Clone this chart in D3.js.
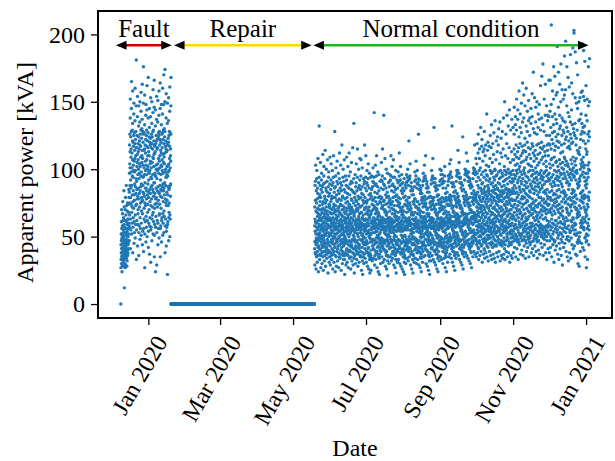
<!DOCTYPE html>
<html><head><meta charset="utf-8">
<script src="https://cdn.jsdelivr.net/npm/d3@7"></script>
<style>html,body{margin:0;padding:0;background:#fff} text{font-family:'Liberation Serif','Times New Roman',serif}</style>
</head><body><svg id="chart" width="615" height="461"></svg>
<script>
// ---------- data: apparent power [kVA], 14 samples per day ----------
const samplesPerDay = 14;
const faultDecStart = "2019-12-09T00:00";
const faultDec = [
0,27,44,33,52,38,61,47,30,70,41,56,35,49,
24,36,48,29,58,42,67,51,33,76,45,39,62,53,
31,46,28,55,40,64,35,50,84,43,59,37,72,48,
12,33,45,38,57,30,62,47,27,70,41,53,36,79,
35,29,51,43,66,39,56,48,88,34,61,45,73,52,
28,41,37,54,32,69,46,59,40,75,50,36,63,44,
38,50,45,63,41,74,56,68,52,85,47,60,79,57,
47,58,83,97,118,66,75,104,126,88,101,113,138,152,
41,63,79,92,124,55,86,109,115,74,98,128,145,165,
52,68,88,101,112,60,72,95,129,81,107,121,134,158,
38,57,76,94,120,64,84,103,117,71,99,125,141,149,
45,61,81,106,127,53,77,98,114,89,108,119,136,160,
49,66,87,99,122,59,73,110,128,82,93,116,147,181,
33,55,74,91,116,62,85,102,125,78,105,111,139,154,
43,59,80,96,119,67,70,107,113,86,100,124,132,147,
36,53,78,93,115,58,82,97,121,72,104,118,135,150,
48,64,84,102,126,56,75,109,117,87,95,129,143,157,
51,60,89,98,123,69,79,105,130,76,110,114,137,163,
44,67,77,108,128,54,88,94,120,83,103,126,149,176,
39,56,82,95,114,63,71,101,127,80,96,115,133,155,
27,52,75,90,118,61,86,106,112,73,99,122,140,148,
46,65,86,103,125,57,78,96,129,84,107,117,144,162,
50,62,81,100,121,68,74,110,116,89,102,127,138,168];
const faultJanStart = "2020-01-01T00:00";
const faultJan = [
42,54,79,92,113,60,83,98,124,70,97,110,131,145,
37,58,85,99,120,64,76,104,118,82,106,123,139,153,
31,55,73,94,116,57,87,101,126,78,93,119,134,150,
47,63,88,105,124,66,72,96,115,85,109,128,142,159,
52,68,83,108,129,61,80,102,121,90,111,118,146,166,
35,51,71,90,112,59,82,97,117,74,95,113,132,144,
24,57,78,95,119,65,86,103,125,79,100,121,137,154,
29,53,75,93,115,62,84,99,122,72,104,116,135,151,
44,60,87,100,123,56,77,108,127,83,97,125,140,158,
49,66,82,106,128,67,74,101,118,88,110,122,145,164,
35,56,80,92,114,58,85,96,120,71,103,112,133,148,
46,62,84,102,126,64,79,107,116,87,99,127,141,160,
51,67,89,97,122,60,76,111,129,84,105,119,148,170,
53,69,86,109,130,65,81,104,124,90,112,128,150,174,
38,58,78,98,117,63,88,100,121,75,94,115,138,156,
43,54,73,94,113,57,83,96,119,77,102,114,134,149,
22,59,81,95,118,61,87,103,123,73,98,120,136,153,
47,64,85,104,125,68,75,99,128,86,108,117,143,161,
50,66,88,101,127,63,80,110,115,89,106,126,147,168];
const repairStart = "2020-01-20T00:00";
const repairEnd = "2020-05-19T00:00";
const repairLevel = 0;
const normalMayStart = "2020-05-19T00:00";
const normalMay = [
41,58,72,29,46,63,88,54,38,77,91,61,103,47,
37,52,69,26,44,60,84,49,35,75,93,57,99,68,
45,61,78,31,39,55,86,65,48,71,82,52,108,42,
36,57,67,24,47,62,90,51,43,79,94,59,132,70,
49,64,73,33,41,53,81,58,37,76,88,50,105,66,
40,55,79,27,36,62,85,63,46,70,92,56,97,48,
44,51,68,30,38,59,83,57,42,74,87,64,111,71,
35,60,76,25,49,54,89,50,39,67,95,61,102,45,
47,56,70,32,43,65,80,52,36,78,90,58,114,69,
39,63,75,28,45,51,86,60,41,72,84,55,100,67,
42,53,77,34,37,64,91,56,48,69,83,62,107,46,
38,59,66,23,44,57,87,53,40,80,94,50,98,72,
46,62,74,31,39,52,82,64,35,73,89,58,109,68];
const normalJunStart = "2020-06-01T00:00";
const normalJun = [
43,57,71,29,38,62,85,51,46,76,92,55,104,67,
36,60,78,33,48,53,80,58,41,70,88,63,99,45,
47,54,67,26,40,64,90,50,37,79,94,59,110,72,
39,61,74,31,44,56,83,57,49,68,86,52,128,70,
42,50,79,24,36,63,87,55,45,73,95,60,101,66,
35,58,69,28,47,52,81,64,39,77,91,56,106,48,
46,62,76,32,41,57,89,53,43,71,84,65,97,69,
38,55,72,27,49,60,82,50,35,78,93,58,112,67,
44,59,68,34,37,54,86,62,47,74,90,51,103,73,
40,63,77,25,45,58,84,56,42,66,88,61,118,70,
48,52,73,30,39,65,80,59,36,79,94,55,100,46,
37,57,70,33,43,53,91,51,44,72,85,62,107,68,
33,49,64,22,36,50,78,47,38,67,83,54,95,60,
45,61,75,29,48,56,88,63,40,71,92,58,109,69,
41,54,79,31,37,60,82,52,46,76,87,64,102,66,
36,58,66,27,44,55,86,57,39,73,95,50,112,71,
47,62,74,34,40,52,81,61,43,69,89,59,98,67,
39,53,71,26,46,64,85,54,35,78,91,56,105,72,
44,60,77,32,42,57,90,58,48,70,84,63,116,68,
38,56,69,29,47,51,83,62,41,75,93,55,134,66,
34,50,65,23,37,54,79,48,36,68,82,53,96,61,
46,59,73,30,43,61,87,55,40,77,90,57,104,70,
42,63,76,33,39,58,84,60,47,71,94,52,115,69,
37,52,70,28,45,55,80,50,38,74,86,62,100,65,
43,57,78,31,41,63,88,59,44,67,92,56,108,72,
48,61,72,35,36,53,85,57,39,79,95,60,107,68,
35,55,68,25,47,60,82,51,42,73,87,58,101,64,
32,48,63,22,38,52,77,46,35,66,81,50,93,59,
45,58,75,30,44,56,89,62,37,70,91,54,118,71,
41,62,79,34,49,59,86,55,46,76,94,63,110,67];
const normalJulStart = "2020-07-01T00:00";
const normalJul = [
44,57,72,31,39,63,84,52,47,75,90,58,99,68,
38,60,77,28,45,54,88,59,41,70,93,62,104,66,
42,53,69,26,36,58,81,50,38,72,86,55,97,64,
33,49,64,23,35,51,78,46,37,66,82,52,94,60,
36,52,67,25,40,55,80,48,34,69,85,57,95,62,
46,61,74,32,43,57,87,60,48,77,91,53,101,70,
48,59,78,34,41,64,90,56,44,73,94,61,142,72,
40,56,71,29,47,53,83,62,36,79,88,58,103,67,
45,63,76,33,38,60,89,54,49,71,95,57,110,69,
39,54,70,27,46,58,82,51,42,74,87,63,98,65,
37,50,68,24,43,56,79,49,35,67,84,59,96,61,
34,48,62,22,37,52,76,45,40,65,80,53,91,58,
47,58,75,30,42,62,86,55,39,78,92,60,105,71,
49,63,79,35,44,57,91,61,46,72,95,64,115,73,
43,60,73,31,48,55,85,58,41,76,89,56,140,70,
46,57,77,33,40,63,88,53,45,70,93,62,108,68,
40,52,69,28,47,54,81,60,38,74,86,57,100,66,
36,55,66,26,39,51,79,48,43,68,83,58,97,63,
32,47,61,21,36,50,75,46,35,64,80,52,90,57,
44,59,72,30,45,61,87,56,41,77,91,54,96,69,
50,64,78,35,42,58,92,62,48,75,95,60,110,74,
42,56,74,32,46,53,84,59,37,71,88,63,102,67,
47,62,76,34,39,60,89,55,44,79,94,57,107,70,
39,53,70,29,48,57,83,50,42,73,87,61,94,65,
37,51,67,27,41,55,80,47,36,69,85,58,99,62,
33,46,63,23,38,50,77,44,40,65,81,54,92,59,
45,58,73,31,44,62,86,57,39,76,90,55,98,68,
48,63,79,33,41,56,91,60,47,74,95,64,112,72,
43,60,75,30,47,59,88,54,38,78,92,57,102,69,
41,55,71,28,37,61,84,51,45,70,89,62,96,66,
38,57,68,26,46,54,82,49,40,72,86,59,90,64];
const normalAugStart = "2020-08-01T00:00";
const normalAug = [
35,50,66,24,41,56,79,47,38,69,84,55,93,61,
31,46,61,22,36,51,74,43,34,64,80,50,88,57,
44,58,73,30,40,63,86,55,46,77,90,57,96,68,
48,62,77,34,43,57,91,60,41,73,94,63,100,71,
45,60,75,32,47,55,88,58,39,79,92,61,121,69,
50,64,79,35,42,61,93,62,48,75,95,59,104,73,
41,55,70,29,46,58,84,52,37,71,87,60,90,66,
37,52,67,26,39,54,81,49,44,68,85,56,84,63,
33,48,63,23,37,50,76,45,36,66,81,53,76,59,
45,59,74,31,44,62,87,56,40,78,91,58,98,68,
49,63,78,34,41,57,92,61,47,72,95,64,106,72,
43,57,72,30,48,60,86,54,38,76,89,59,99,67,
46,61,76,33,40,56,90,58,45,70,93,62,126,70,
42,56,71,29,47,59,85,53,39,74,88,57,92,66,
38,53,68,27,42,55,82,50,35,69,84,61,86,64,
34,49,64,24,37,52,77,46,41,65,82,54,79,60,
45,58,75,31,43,61,88,57,39,72,91,56,97,68,
50,63,79,35,46,57,92,62,44,77,94,60,103,73,
52,65,80,36,41,64,95,59,48,74,93,63,110,75,
43,56,72,30,48,58,86,53,40,78,89,61,91,67,
40,54,70,28,39,55,83,51,46,71,87,57,86,65,
36,51,66,25,44,50,79,48,37,67,83,59,79,62,
32,47,62,22,35,53,75,44,38,64,80,52,72,58,
47,60,76,32,45,57,89,56,41,73,92,62,99,70,
51,64,79,36,42,62,94,61,49,76,95,58,108,74,
46,61,77,33,48,56,90,58,40,79,93,63,131,71,
44,57,73,31,39,60,87,54,46,70,90,59,93,68,
40,55,70,29,45,53,84,51,37,74,86,61,88,66,
37,52,67,26,41,58,80,49,43,66,85,56,81,63,
34,49,64,24,36,51,77,45,39,68,81,55,74,60,
46,59,75,32,43,63,88,57,47,71,91,58,100,69];
const normalSepStart = "2020-09-01T00:00";
const normalSep = [
50,63,78,35,44,59,92,61,48,75,96,64,99,73,
46,61,76,33,49,56,89,58,42,79,93,60,96,70,
43,57,72,30,39,62,86,54,45,71,90,63,91,67,
48,62,78,34,46,58,91,60,41,76,95,59,102,72,
38,53,68,27,43,55,82,50,36,69,86,61,79,64,
35,49,64,24,38,51,77,46,40,66,83,56,74,60,
45,58,74,31,42,61,88,56,47,73,91,62,95,68,
49,63,79,35,46,57,93,60,43,77,96,64,104,73,
52,66,81,37,48,63,96,62,50,78,98,60,107,75,
47,61,77,34,44,58,90,59,41,80,94,65,132,71,
43,58,73,31,49,56,87,55,39,72,90,61,89,68,
39,54,69,28,42,52,83,51,45,68,87,59,80,65,
36,50,65,25,38,53,78,47,37,66,84,57,73,61,
48,61,77,34,45,63,91,58,43,75,95,62,99,72,
53,67,82,38,49,59,97,64,51,79,99,66,114,76,
50,64,80,36,47,62,94,61,44,77,97,63,105,74,
46,60,76,33,41,58,90,57,48,73,93,65,94,71,
42,57,73,31,47,55,86,54,40,71,89,61,90,68,
40,55,71,29,44,60,84,52,38,69,88,58,124,66,
37,51,67,26,39,53,80,48,42,67,85,59,75,63,
49,62,78,35,46,60,92,59,44,76,96,64,100,73,
54,67,83,38,50,64,98,63,52,80,99,66,112,77,
51,65,81,36,47,61,95,60,45,78,97,63,106,75,
47,62,78,34,52,58,91,57,43,74,94,67,98,72,
44,59,75,32,48,56,88,55,41,79,91,62,93,70,
42,56,73,30,45,61,86,53,39,70,89,64,88,68,
38,53,69,27,43,54,82,49,46,68,87,60,76,65,
50,63,79,35,47,59,93,60,45,77,97,65,101,74,
55,68,84,39,51,65,99,64,53,81,100,67,118,78,
52,66,82,37,49,62,96,61,47,79,98,64,108,76];
const normalOctStart = "2020-10-01T00:00";
const normalOct = [
48,63,77,35,52,91,58,72,44,104,81,66,97,119,
55,69,38,46,83,61,75,53,88,112,42,67,94,126,
41,57,74,33,65,50,86,71,59,99,79,47,108,115,
62,45,80,36,54,92,68,77,51,101,57,73,86,131,
50,71,39,58,84,43,64,96,76,55,117,69,89,122,
44,60,82,31,53,73,66,90,48,106,78,57,98,113,
67,52,37,79,46,62,85,56,72,94,115,41,83,128,
53,40,70,59,34,76,49,87,64,110,81,55,99,118,
47,65,83,38,54,68,45,92,74,103,60,78,96,141,
58,43,72,35,61,51,80,95,67,114,48,84,88,120,
42,56,76,32,63,49,71,86,58,102,82,54,91,117,
64,51,84,39,45,69,78,57,93,108,73,60,99,125,
49,62,73,36,55,81,44,66,89,116,77,53,97,133,
57,46,80,33,68,52,75,98,61,105,84,42,90,119,
45,67,71,37,59,50,83,87,63,111,79,54,94,127,
60,48,77,34,56,72,43,92,66,100,85,58,99,136,
52,64,82,31,47,70,61,88,54,107,76,44,95,121,
43,58,74,38,65,53,79,96,69,113,81,50,86,124,
63,50,85,35,57,73,46,90,68,118,78,55,98,130,
48,66,76,39,54,61,84,93,71,104,80,45,89,135,
56,44,81,32,62,52,77,99,65,112,83,59,94,123,
51,69,72,36,47,58,80,87,64,109,76,43,97,128,
59,45,84,34,66,55,70,95,61,115,82,53,91,138,
46,62,78,37,57,49,83,88,67,102,74,41,99,150,
54,68,73,33,44,63,79,92,58,110,85,56,96,126,
61,47,86,39,55,71,76,98,69,119,80,52,93,140,
50,65,82,35,60,48,74,89,66,108,84,57,100,132,
57,43,79,38,69,53,85,97,62,116,77,46,94,144,
45,59,75,31,52,67,81,91,70,105,83,54,98,129,
64,49,84,36,58,70,44,96,73,113,78,55,90,137,
52,60,77,34,46,66,82,93,63,107,86,50,99,131];
const normalNovStart = "2020-11-01T00:00";
const normalNov = [
54,72,91,38,49,65,84,107,58,77,96,115,126,146,
47,68,88,42,56,74,93,111,52,63,82,103,133,139,
59,77,95,35,51,62,86,118,48,71,99,109,129,152,
50,66,83,41,57,79,97,104,46,69,90,113,137,144,
55,73,92,33,48,64,81,116,53,76,100,108,124,158,
46,61,87,44,59,70,94,102,51,67,85,119,131,141,
57,75,98,37,52,68,83,110,49,78,91,105,127,149,
51,63,89,40,58,72,96,117,47,65,80,112,135,164,
60,78,93,36,53,66,85,106,55,74,99,114,138,155,
48,70,84,43,56,61,97,101,50,79,88,118,123,147,
58,67,91,34,47,75,82,113,54,64,95,107,132,160,
45,62,86,39,59,71,90,109,52,77,81,120,128,143,
56,76,94,42,50,63,87,104,48,69,98,116,136,151,
53,65,80,35,57,73,92,111,46,68,84,103,125,138,
49,79,99,44,55,60,83,115,51,72,89,108,134,145,
57,66,88,38,46,74,95,102,58,70,86,119,139,156,
60,78,96,41,54,67,91,117,53,75,99,112,130,172,
47,64,85,36,58,71,82,106,49,76,93,110,127,153,
55,69,90,43,51,62,97,114,56,73,87,101,135,146,
52,77,84,39,59,68,94,108,48,65,98,118,126,150,
46,63,92,34,50,72,81,103,54,66,89,111,131,141,
58,74,87,40,47,61,96,119,52,79,83,105,137,148,
54,68,97,37,56,75,90,112,57,64,85,116,129,162,
59,79,93,45,53,70,99,107,50,73,95,120,138,169,
51,66,86,42,58,77,88,115,55,69,92,109,133,178,
56,72,94,36,49,63,83,104,53,78,97,117,128,152,
48,75,89,44,57,69,98,113,51,71,84,110,140,163,
53,64,82,38,55,76,91,106,58,67,99,102,125,147,
50,70,95,33,47,62,85,118,54,74,80,114,136,140,
57,78,91,41,59,73,96,110,52,68,93,119,139,166];
const normalDecStart = "2020-12-01T00:00";
const normalDec = [
52,74,97,38,61,83,104,125,47,70,92,118,143,166,
58,79,101,42,55,68,89,131,50,77,107,115,148,207,
49,71,94,35,63,84,108,122,57,66,87,127,139,158,
60,77,103,44,52,73,96,119,48,81,91,133,152,176,
54,69,90,31,59,82,109,128,46,75,99,114,141,169,
47,67,88,40,62,78,93,117,56,72,105,124,137,155,
62,81,106,43,58,76,98,134,53,84,95,121,157,191,
55,73,92,37,49,70,102,126,60,79,88,116,146,172,
51,68,99,33,64,85,94,120,45,74,107,130,140,163,
57,80,91,41,53,71,104,132,61,67,97,112,150,178,
48,66,96,36,60,83,89,118,52,76,101,125,138,159,
46,72,87,29,56,69,105,113,50,65,93,129,136,152,
63,78,100,42,59,84,97,127,54,82,109,119,155,184,
59,83,108,45,61,75,95,135,57,80,103,122,159,195,
53,76,93,39,64,81,106,124,48,71,90,131,147,176,
56,70,98,35,50,68,91,116,62,78,104,128,142,168,
50,74,102,32,58,85,96,121,47,66,88,117,139,161,
47,67,89,38,55,79,94,115,53,73,100,126,135,185,
54,72,97,34,62,77,107,123,49,69,92,119,144,164,
61,82,104,44,57,74,99,133,58,85,96,120,156,190,
64,79,109,41,63,83,101,130,55,76,94,127,203,201,
58,84,95,43,52,72,106,125,60,80,98,134,153,187,
55,75,103,37,59,81,92,118,51,70,108,123,149,179,
52,71,99,36,64,78,97,129,46,67,89,114,145,170,
45,66,86,30,53,69,90,112,48,65,87,113,136,150,
47,68,88,28,50,73,93,111,46,66,91,116,137,153,
53,77,100,39,60,82,95,122,57,71,104,126,141,157,
62,83,107,45,58,76,102,134,61,79,96,128,158,193,
60,80,105,42,64,84,98,131,56,75,109,121,154,188,
57,78,101,40,55,72,94,127,63,81,103,132,151,180,
49,70,91,35,61,79,88,119,50,68,97,115,140,162];
const normalJanStart = "2021-01-01T00:00";
const normalJan = [
46,65,86,27,52,70,92,111,47,66,89,113,136,152,
56,74,97,33,60,80,103,126,51,72,94,121,147,176,
58,79,100,44,63,77,105,128,55,83,99,124,150,182];

// ---------- axis / annotation settings ----------
const yTicks = [0, 50, 100, 150, 200];
const xTickDates = ["2020-01-01","2020-03-01","2020-05-01","2020-07-01","2020-09-01","2020-11-01","2021-01-01"];
const xDomain = ["2019-11-19T22:00", "2021-01-22T16:00"];
const yDomain = [-10.35, 217.35];
const phaseLabels = ["Fault", "Repair", "Normal condition"];
const phaseStart = ["2019-12-05T00:00", "2020-01-22T12:00", "2020-05-18T00:00"];
const phaseEnd = ["2020-01-20T14:00", "2020-05-16T14:00", "2021-01-03T00:00"];
const phaseColors = ["#c80000", "#ffd700", "#1db41d"];
const arrowLevel = 192;

// ---------- build ----------
const STEP = 24 * 3600 * 1000 / samplesPerDay;
const parse = s => new Date(s);
function seg(startStr, vals) {
  const t0 = parse(startStr).getTime();
  return vals.map((v, i) => ({ t: new Date(t0 + i * STEP), v }));
}
const repairPts = d3.timeHour.every(2).range(parse(repairStart), parse(repairEnd)).map(t => ({ t, v: repairLevel }));
const points = [].concat(
  seg(faultDecStart, faultDec), seg(faultJanStart, faultJan), repairPts,
  seg(normalMayStart, normalMay), seg(normalJunStart, normalJun), seg(normalJulStart, normalJul),
  seg(normalAugStart, normalAug), seg(normalSepStart, normalSep), seg(normalOctStart, normalOct),
  seg(normalNovStart, normalNov), seg(normalDecStart, normalDec), seg(normalJanStart, normalJan)
);

const L = 98, R = 612, T = 11, B = 318;
const FONT = "'Liberation Serif','Times New Roman',serif";
const svg = d3.select("#chart");
const x = d3.scaleTime().domain(xDomain.map(parse)).range([L, R]);
const y = d3.scaleLinear().domain(yDomain).range([B, T]);

svg.append("g").selectAll("circle").data(points).join("circle")
  .attr("cx", d => x(d.t)).attr("cy", d => y(d.v)).attr("r", 1.7)
  .attr("fill", "#1f77b4");

// y axis
const gy = svg.append("g").attr("transform", `translate(${L},0)`)
  .call(d3.axisLeft(y).tickValues(yTicks).tickSize(7).tickPadding(6).tickFormat(d3.format("d")));
gy.select(".domain").remove();
gy.selectAll("line").attr("stroke", "#000").attr("stroke-width", 1.3);
gy.selectAll("text").style("font-family", FONT).attr("font-size", 24).attr("fill", "#000").attr("dy", "0.33em");

// x axis
const fmt = d3.timeFormat("%b %Y");
const gx = svg.append("g").attr("transform", `translate(0,${B})`)
  .call(d3.axisBottom(x).tickValues(xTickDates.map(parse)).tickSize(7).tickFormat(fmt));
gx.select(".domain").remove();
gx.selectAll("line").attr("stroke", "#000").attr("stroke-width", 1.3);
gx.selectAll("text").style("font-family", FONT).attr("font-size", 24).attr("fill", "#000")
  .attr("text-anchor", "middle").attr("dy", "0.33em")
  .each(function () {
    const len = this.getComputedTextLength();
    const h = len * Math.sin(Math.PI / 3) + 16 * 0.5;
    const cy = 13 + h / 2 + 3;
    d3.select(this).attr("x", 0).attr("y", 0)
      .attr("transform", `translate(-9,${cy}) rotate(-60)`);
  });

// frame
svg.append("rect").attr("x", L).attr("y", T).attr("width", R - L).attr("height", B - T)
  .attr("fill", "none").attr("stroke", "#000").attr("stroke-width", 2);

// axis titles
svg.append("text").attr("transform", `translate(33,${(T + B) / 2 + 8}) rotate(-90)`)
  .attr("text-anchor", "middle").style("font-family", FONT).attr("font-size", 24).attr("fill", "#000")
  .text("Apparent power [kVA]");
svg.append("text").attr("x", (L + R) / 2).attr("y", 456)
  .attr("text-anchor", "middle").style("font-family", FONT).attr("font-size", 24).attr("fill", "#000")
  .text("Date");

// phase arrows
const ya = y(arrowLevel);
phaseLabels.forEach((lab, i) => {
  const x1 = x(parse(phaseStart[i])), x2 = x(parse(phaseEnd[i]));
  const g = svg.append("g");
  g.append("line").attr("x1", x1 + 3).attr("x2", x2 - 3).attr("y1", ya).attr("y2", ya)
    .attr("stroke", phaseColors[i]).attr("stroke-width", 2.5);
  const hl = 10.5, hw = 4.5;
  g.append("path").attr("d", `M${x1},${ya} L${x1 + hl},${ya - hw} L${x1 + hl},${ya + hw} Z`).attr("fill", "#000");
  g.append("path").attr("d", `M${x2},${ya} L${x2 - hl},${ya - hw} L${x2 - hl},${ya + hw} Z`).attr("fill", "#000");
  g.append("text").attr("x", (x1 + x2) / 2).attr("y", 36.5).attr("text-anchor", "middle")
    .style("font-family", FONT).attr("font-size", 25).attr("fill", "#000").text(lab);
});
</script></body></html>
